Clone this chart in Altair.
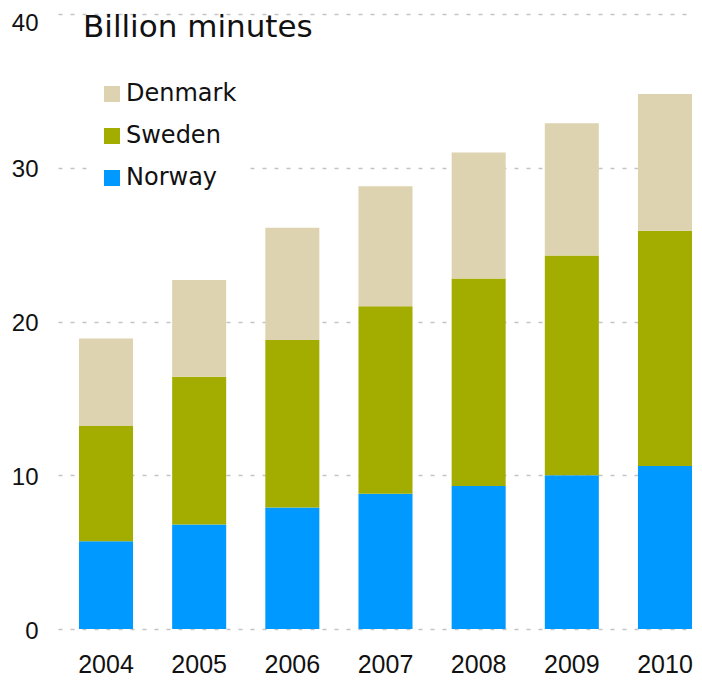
import altair as alt
import pandas as pd

years = ["2004", "2005", "2006", "2007", "2008", "2009", "2010"]
norway = [5.7, 6.8, 7.9, 8.8, 9.3, 10.0, 10.6]
sweden = [7.5, 9.6, 10.9, 12.2, 13.5, 14.3, 15.3]
denmark = [5.7, 6.3, 7.3, 7.8, 8.2, 8.6, 8.9]

countries = ["Denmark", "Sweden", "Norway"]
colors = ["#DDD3B0", "#A3AD00", "#0099FF"]
stack_rank = {"Norway": 0, "Sweden": 1, "Denmark": 2}
y_ticks = [0, 10, 20, 30, 40]
title_text = ["Billion minutes"]

rows = []
for name, vals in (("Norway", norway), ("Sweden", sweden), ("Denmark", denmark)):
    for yr, v in zip(years, vals):
        rows.append({"year": yr, "country": name, "value": v, "rank": stack_rank[name]})
df = pd.DataFrame(rows)

label_font = "Liberation Sans"
text_font = "DejaVu Sans"

bars = (
    alt.Chart(df)
    .mark_bar()
    .encode(
        x=alt.X("year:N", title=None, sort=years,
                scale=alt.Scale(paddingInner=0.42, paddingOuter=0.1234, align=0.913),
                axis=alt.Axis(labelAngle=0, labelFontSize=25, labelFont=label_font,
                              labelColor="#111111", labelPadding=23, ticks=False,
                              domain=False, grid=False)),
        y=alt.Y("value:Q", title=None, stack="zero",
                scale=alt.Scale(domain=[0, 40], nice=False),
                axis=alt.Axis(values=y_ticks, labelFontSize=24, labelFont=label_font,
                              labelColor="#111111", labelPadding=20, ticks=False,
                              domain=False, grid=True, gridColor="#C4C4C4",
                              gridWidth=1.5, gridDash=[4, 8],
                              labelOffset={"condition": {"test": "datum.value == 40", "value": 9}, "value": 2})),
        color=alt.Color("country:N", sort=countries,
                        scale=alt.Scale(domain=countries, range=colors),
                        legend=alt.Legend(title=None, orient="none", legendX=34, legendY=60,
                                          padding=8, fillColor="white", symbolType="square",
                                          symbolSize=256, symbolStrokeWidth=0,
                                          labelFontSize=24, labelFont=text_font,
                                          labelColor="#111111", labelOffset=2,
                                          rowPadding=18)),
        order=alt.Order("rank:Q", sort="ascending"),
    )
)

title = (
    alt.Chart(pd.DataFrame({"t": title_text}))
    .mark_text(align="left", baseline="alphabetic", fontSize=31, font=text_font,
               color="#111111")
    .encode(text="t:N", x=alt.value(25), y=alt.value(23))
)

chart = (
    alt.layer(bars, title)
    .properties(width=636, height=615,
                autosize=alt.AutoSizeParams(type="none"),
                padding={"top": 6, "left": 50, "right": 0, "bottom": 48})
    .configure_view(stroke=None)
)

chart.save("out.html", embed_options={"renderer": "svg", "actions": False})
